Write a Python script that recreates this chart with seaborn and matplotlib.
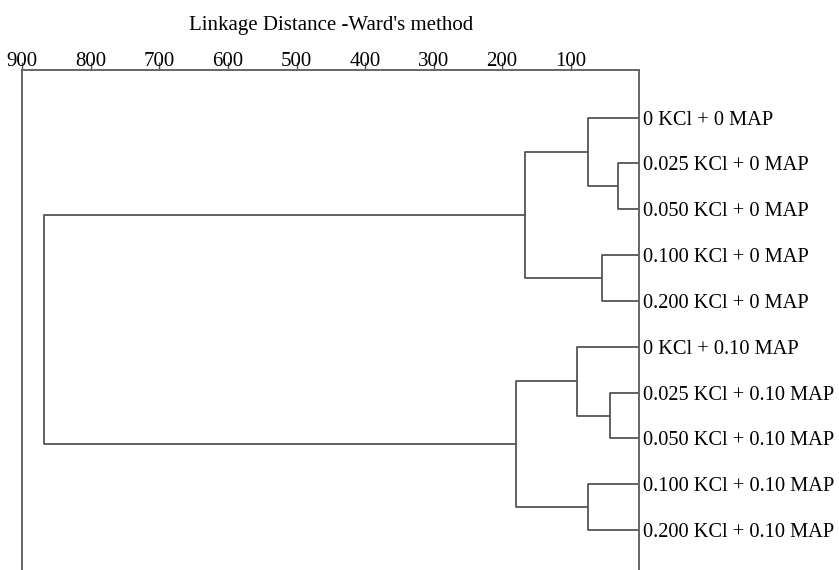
import pandas as pd
import matplotlib.pyplot as plt
import seaborn as sns

# Leaf labels (top to bottom)
labels = [
    '0 KCl + 0 MAP', '0.025 KCl + 0 MAP', '0.050 KCl + 0 MAP',
    '0.100 KCl + 0 MAP', '0.200 KCl + 0 MAP',
    '0 KCl + 0.10 MAP', '0.025 KCl + 0.10 MAP', '0.050 KCl + 0.10 MAP',
    '0.100 KCl + 0.10 MAP', '0.200 KCl + 0.10 MAP',
]

# Ward linkage: (left cluster, right cluster, distance); new clusters get ids 10, 11, ...
merge_left = [1, 3, 0, 6, 8, 5, 12, 15, 16]
merge_right = [2, 4, 10, 7, 9, 13, 11, 14, 17]
merge_dist = [30.5, 55, 75, 42.6, 74.2, 91.2, 166.6, 179.7, 868]

xticks = [900, 800, 700, 600, 500, 400, 300, 200, 100]

# Build the dendrogram segments
pos = {i: float(i) for i in range(len(labels))}
height = {i: 0.0 for i in range(len(labels))}
rows = []
for k, (a, b, d) in enumerate(zip(merge_left, merge_right, merge_dist)):
    new_id = len(labels) + k
    pts = [(height[a], pos[a]), (d, pos[a]), (d, pos[b]), (height[b], pos[b])]
    for x, y in pts:
        rows.append({'seg': k, 'dist': x, 'leaf': y})
    pos[new_id] = (pos[a] + pos[b]) / 2
    height[new_id] = d
segs = pd.DataFrame(rows)

sns.set_style('white')
plt.rcParams['font.family'] = ['Liberation Serif', 'DejaVu Serif']
plt.rcParams['text.color'] = 'black'
plt.rcParams['axes.labelcolor'] = 'black'

fig = plt.figure(figsize=(8.39, 5.70), dpi=100)
ax = fig.add_axes([0.0266, 0.0, 0.7353, 0.8772])

sns.lineplot(data=segs, x='dist', y='leaf', units='seg', estimator=None, sort=False,
             color='#555555', linewidth=1.3, ax=ax, legend=False)

ax.set_xlim(900, 0)
ax.set_ylim(9.87, -1.04)

# distance axis on top
ax.xaxis.tick_top()
ax.xaxis.set_label_position('top')
ax.set_xticks(xticks)
ax.set_xticklabels([str(t) for t in xticks], fontsize=15)
ax.tick_params(axis='x', direction='out', length=6, width=1, colors='#555555',
               labelcolor='black', pad=-7)
ax.set_xlabel("Linkage Distance -Ward's method", fontsize=15, labelpad=16)

# leaf names on the right
ax.yaxis.tick_right()
ax.set_yticks(range(len(labels)))
ax.set_yticklabels(labels, fontsize=14.7)
ax.tick_params(axis='y', length=0, pad=3, labelcolor='black')
ax.set_ylabel('')

for side in ['top', 'left', 'right']:
    ax.spines[side].set_visible(True)
    ax.spines[side].set_color('#666666')
    ax.spines[side].set_linewidth(1.4)
ax.spines['bottom'].set_visible(False)

plt.savefig('out.png', dpi=100)
